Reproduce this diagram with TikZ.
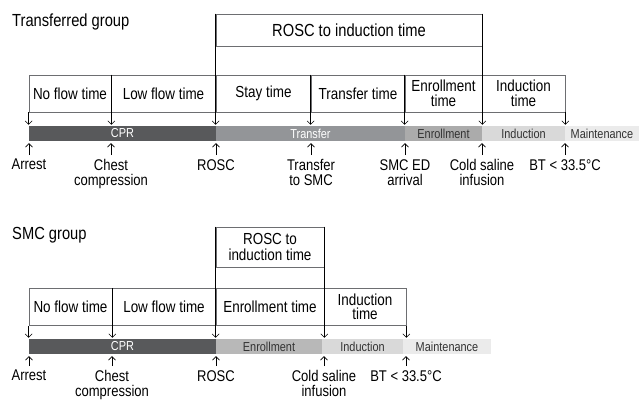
\documentclass[tikz,border=0pt]{standalone}
\usepackage{fontspec}
\setmainfont{Liberation Sans}[FakeStretch=0.84]
\usetikzlibrary{arrows.meta}

\definecolor{cprgray}{HTML}{58595B}
\definecolor{trfgray}{HTML}{939598}
\definecolor{enrgray}{HTML}{ABABAB}
\definecolor{indgray}{HTML}{D9D9D9}
\definecolor{mntgray}{HTML}{EBEBEB}
\definecolor{boxline}{HTML}{6D6E71}

\tikzset{
  seg/.style={draw=boxline, line width=0.7pt, minimum height=37pt, inner sep=0pt,
    align=center, font=\fontsize{16}{14.5}\selectfont},
  span/.style={seg, font=\fontsize{16}{16}\selectfont},
  bar/.style={fill=#1, minimum height=15pt, inner sep=0pt, text=black!80,
    font=\fontsize{13}{13}\selectfont},
  evt/.style={anchor=north, inner sep=1pt, align=center, font=\fontsize{15.5}{15.5}\selectfont},
  ttl/.style={anchor=west, inner sep=0pt, font=\fontsize{17.5}{18}\selectfont},
  dn/.style={-{Straight Barb[length=3.5pt,width=7pt]}, line width=0.6pt, shorten >=1pt},
  up/.style={dn, shorten >=2pt, shorten <=3pt},
}

\begin{document}
\begin{tikzpicture}[x=1pt, y=-1pt]
    \useasboundingbox (0,0) rectangle (639,401);

    % Transferred group
    \node[ttl] (t-title) at (12,22) {Transferred group};
    \node[span, font=\fontsize{17.5}{18}\selectfont, minimum width=266pt, minimum height=32pt] (t-rosc) at (349,30) {ROSC to induction time};

    \node[seg, minimum width=82pt] (t-nf) at (70,93.5) {No flow time};
    \node[seg, minimum width=105pt] (t-lf) at (163.5,93.5) {Low flow time};
    \node[seg, minimum width=95pt] (t-st) at (263.5,93.5) {Stay time};
    \node[seg, minimum width=94pt] (t-tr) at (358,93.5) {Transfer time};
    \node[seg, minimum width=77pt] (t-en) at (443.5,93.5) {Enrollment\\time};
    \node[seg, minimum width=83pt] (t-in) at (523.5,93.5) {Induction\\time};

    \node[bar=cprgray, text=white, minimum width=187pt] (t-cpr) at (122.5,133.5) {CPR};
    \node[bar=trfgray, text=white, minimum width=189pt] (t-trf) at (310.5,133.5) {Transfer};
    \node[bar=enrgray, minimum width=77pt] (t-enr) at (443.5,133.5) {Enrollment};
    \node[bar=indgray, minimum width=83pt] (t-ind) at (523.5,133.5) {Induction};
    \node[bar=mntgray, minimum width=74pt] (t-mnt) at (602,133.5) {Maintenance};

    \draw[dn] (t-nf.south west) -- (t-nf.south west |- t-cpr.north);
    \draw[dn] (t-nf.north east) -- (t-nf.north east |- t-cpr.north);
    \draw[dn] (t-rosc.north west) -- (t-rosc.north west |- t-cpr.north);
    \draw[dn] (t-tr.north west) -- (t-tr.north west |- t-cpr.north);
    \draw[dn] (t-en.north west) -- (t-en.north west |- t-cpr.north);
    \draw[dn] (t-rosc.north east) -- (t-rosc.north east |- t-cpr.north);
    \draw[dn] (t-in.south east) -- (t-in.south east |- t-cpr.north);

    \node[evt] (t-arrest) at (29,158) {Arrest};
    \node[evt] (t-chest) at (111,158) {Chest\\compression};
    \node[evt] (t-roscev) at (216,158) {ROSC};
    \node[evt] (t-smc) at (311,158) {Transfer\\to SMC};
    \node[evt] (t-ed) at (405,158) {SMC ED\\arrival};
    \node[evt] (t-cold) at (482,158) {Cold saline\\infusion};
    \node[evt] (t-bt) at (565,158) {BT < 33.5°C};

    \foreach \ev in {t-arrest,t-chest,t-roscev,t-smc,t-ed,t-cold,t-bt}
        \draw[up] (\ev.north) -- (\ev.north |- t-cpr.south);

    % SMC group
    \begin{scope}[yshift=-213pt]
        \node[ttl] (s-title) at (12,22) {SMC group};
        \node[span, minimum width=108pt, minimum height=40pt] (s-rosc) at (270,34) {ROSC to\\induction time};

        \node[seg, minimum width=83pt] (s-nf) at (70.5,94) {No flow time};
        \node[seg, minimum width=104pt] (s-lf) at (164,94) {Low flow time};
        \node[seg, minimum width=108pt] (s-en) at (270,94) {Enrollment time};
        \node[seg, minimum width=82pt] (s-in) at (365,94) {Induction\\time};

        \node[bar=cprgray, text=white, minimum width=187pt] (s-cpr) at (122.5,133.5) {CPR};
        \node[bar=enrgray!85, minimum width=106pt] (s-enr) at (269,133.5) {Enrollment};
        \node[bar=indgray, minimum width=81pt] (s-ind) at (362.5,133.5) {Induction};
        \node[bar=mntgray, minimum width=88pt] (s-mnt) at (447,133.5) {Maintenance};

        \draw[dn] (s-nf.south west) -- (s-nf.south west |- s-cpr.north);
        \draw[dn] (s-nf.north east) -- (s-nf.north east |- s-cpr.north);
        \draw[dn] (s-rosc.north west) -- (s-rosc.north west |- s-cpr.north);
        \draw[dn] (s-rosc.north east) -- (s-rosc.north east |- s-cpr.north);
        \draw[dn] (s-in.south east) -- (s-in.south east |- s-cpr.north);

        \node[evt] (s-arrest) at (29,156) {Arrest};
        \node[evt] (s-chest) at (112,156) {Chest\\compression};
        \node[evt] (s-roscev) at (216,156) {ROSC};
        \node[evt] (s-cold) at (324,156) {Cold saline\\infusion};
        \node[evt] (s-bt) at (406,156) {BT < 33.5°C};

        \foreach \ev in {s-arrest,s-chest,s-roscev,s-cold,s-bt}
            \draw[up] (\ev.north) -- (\ev.north |- s-cpr.south);
    \end{scope}
\end{tikzpicture}
\end{document}
